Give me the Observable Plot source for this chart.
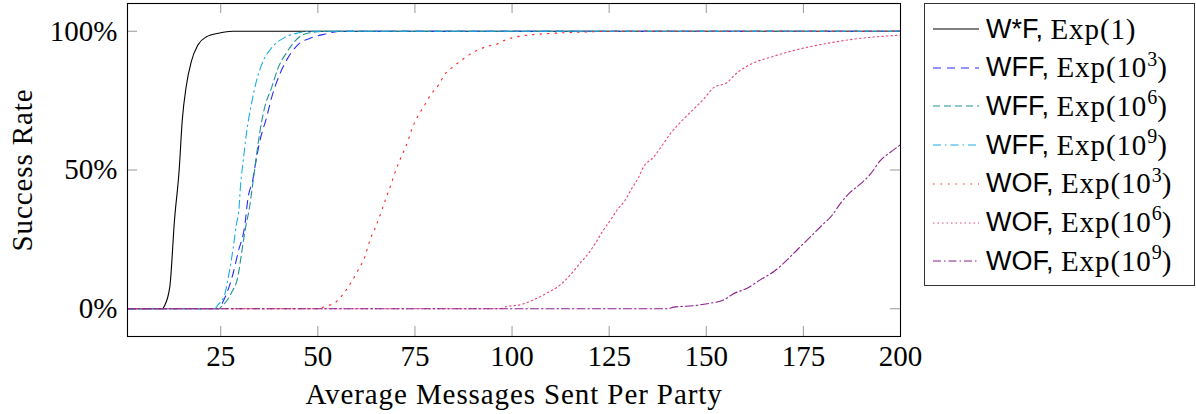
<!DOCTYPE html>
<html>
<head>
<meta charset="utf-8">
<script src="https://cdn.jsdelivr.net/npm/d3@7"></script>
<script src="https://cdn.jsdelivr.net/npm/@observablehq/plot@0.6"></script>
<style>
  body { margin: 0; background: #fff; }
  #wrap { position: relative; width: 1196px; height: 414px; overflow: hidden; }
  #chart { position: absolute; left: 0; top: 0; }
  #chart g[aria-label="x-axis label"] text,
  #chart g[aria-label="y-axis label"] text { letter-spacing: 0.9px; }
  #legend { position: absolute; left: 924px; top: 3px; width: 269px; height: 281px;
            border: 1px solid #333; background: #fff; box-sizing: content-box; }
  .row { position: absolute; left: 0; height: 38px; display: flex; align-items: center; white-space: nowrap; }
  .row svg { margin-left: 8px; margin-right: 7px; }
  .sans { font-family: "Liberation Sans", Arial, sans-serif; font-size: 27px; }
  .serif { font-family: "Liberation Serif", serif; font-size: 29px; letter-spacing: 0.9px; }
  .serif sup { font-size: 20px; position: relative; top: -1px; vertical-align: super; line-height: 0; letter-spacing: 0; }
</style>
</head>
<body>
<div id="wrap">
  <div id="chart"></div>
  <div id="legend"></div>
</div>
<script>
// ---- data (success rate in %, vs average messages sent per party) ----
const xTicks = [25, 50, 75, 100, 125, 150, 175, 200];
const yTicks = [0, 50, 100];

const wstarF_x = [1, 10, 10.5, 11.9, 13.1, 14.3, 15.1, 16.1, 17.4, 19.1, 21.3, 24.7, 28, 200];
const wstarF_y = [0, 0, 1, 8, 32, 50, 68, 80, 89, 95, 98, 99.4, 100, 100];

const wff3_x = [1, 24.5, 25.6, 28.2, 29.5, 31.2, 32, 33.3, 33.8, 35.1, 36.8, 38.1, 40.2, 42.3, 44.9, 48, 52, 56, 200];
const wff3_y = [0, 0, 2.6, 12.8, 20.5, 30.1, 39.7, 46.8, 51, 60.6, 68.9, 76.1, 84.5, 90.4, 95.2, 97.5, 99, 100, 100];

const wff6_x = [1, 24.5, 25.2, 27.7, 29.5, 30.3, 31.2, 32.5, 33.3, 33.8, 35.1, 36.3, 38.1, 39.8, 41.9, 44.1, 46.6, 52, 200];
const wff6_y = [0, 0, 0.8, 5.6, 12.2, 19.4, 27.7, 37.3, 45.6, 51, 64, 72.5, 79.7, 86.9, 92.2, 96.4, 99, 100, 100];

const wff9_x = [1, 23.5, 24.3, 26, 26.9, 28.2, 29, 29.7, 30.1, 30.5, 30.8, 31.6, 32.9, 34.2, 35.9, 38.1, 41.5, 44.9, 48, 200];
const wff9_y = [0, 0, 1.4, 5, 11, 21.8, 30.1, 36.1, 44.4, 49.8, 53.4, 63, 73.7, 82.1, 89.2, 94, 97.8, 99.4, 100, 100];

const wof3_x = [1, 50, 51.8, 54.8, 57, 58.7, 60.4, 62.1, 63.4, 64.7, 66.4, 67.5, 68.6, 69.6, 70.7, 72, 73.3, 74.3, 75.7, 77.4, 79, 81, 82.7, 85.1, 87.6, 90.5, 93.3, 96.5, 98, 102, 109.8, 118.3, 126, 200];
const wof3_y = [0, 0, 0.8, 2.6, 6.2, 9.8, 14, 18.7, 24.7, 28.9, 35.2, 39.7, 43.8, 48, 52.2, 56.4, 60.9, 65.1, 69.3, 73.1, 77, 80.5, 84.5, 87.5, 90.2, 92.8, 94.4, 95.6, 96.7, 98.2, 99.2, 99.7, 100, 100];

const wof6_x = [1, 97, 98.6, 102, 105.5, 108.9, 112.4, 115, 117.5, 119.7, 121.4, 123.5, 125.3, 127, 129.1, 130.8, 132.6, 133.8, 136.4, 138.6, 140.7, 143.7, 146.7, 149.3, 151.9, 155.3, 157.9, 161.3, 167.4, 173.4, 180.2, 188.8, 200];
const wof6_y = [0, 0, 0.8, 1.4, 3.2, 5.6, 8.6, 12.2, 16.4, 20, 23.5, 28.3, 31.9, 35.5, 39.1, 43.3, 47.4, 51, 54.6, 58.8, 63, 67.7, 71.9, 75.5, 79.7, 81.5, 85, 88, 91, 93.4, 95.4, 97.3, 98.6];

const wof9_x = [1, 140, 141.6, 146.7, 150.2, 154.5, 157, 160.5, 163.9, 167.4, 170.8, 173.8, 176.8, 179.8, 182.4, 184.5, 187.1, 189.7, 192.3, 194.8, 197.4, 200];
const wof9_y = [0, 0, 0.6, 1.1, 1.8, 3.2, 5.4, 7.4, 10.4, 13.4, 17.6, 21.8, 25.9, 30.1, 33.7, 37.9, 42, 45, 48.6, 53.4, 56.4, 59.1];

const seriesNames = ["W*F", "WFF", "WFF", "WFF", "WOF", "WOF", "WOF"];
const seriesExps = ["1", "3", "6", "9", "3", "6", "9"];
const seriesX = [wstarF_x, wff3_x, wff6_x, wff9_x, wof3_x, wof6_x, wof9_x];
const seriesY = [wstarF_y, wff3_y, wff6_y, wff9_y, wof3_y, wof6_y, wof9_y];

// ---- styles ----
const colors = ["#000000", "#2a2aff", "#1f9393", "#1aaee6", "#ff2020", "#e8457a", "#8e1e8e"];
const dashes = [null, "8,6", "7,4", "8,4,1.5,4", "1.5,6", "1.5,3", "8,3,1.5,3"];

const W = 1196, H = 414, mL = 127, mR = 296, mT = 3, mB = 78;
const frameW = W - mL - mR, frameH = H - mT - mB;

const marks = [];
// inward ticks (bottom/top/left/right)
marks.push(Plot.tickX(xTicks, {x: d => d, stroke: "#999", strokeWidth: 1, insetTop: frameH - 10}));
marks.push(Plot.tickX(xTicks, {x: d => d, stroke: "#999", strokeWidth: 1, insetBottom: frameH - 10}));
marks.push(Plot.tickY(yTicks, {y: d => d, stroke: "#999", strokeWidth: 1, insetRight: frameW - 10}));
marks.push(Plot.tickY(yTicks, {y: d => d, stroke: "#999", strokeWidth: 1, insetLeft: frameW - 10}));

seriesX.forEach((xs, i) => {
  const rows = xs.map((x, j) => ({x, y: seriesY[i][j]}));
  marks.push(Plot.line(rows, {
    x: "x", y: "y", stroke: colors[i], strokeWidth: 1.1,
    strokeDasharray: dashes[i], curve: "monotone-x"
  }));
});

marks.push(Plot.axisX(xTicks, {
  tickSize: 0, tickPadding: 9, label: "Average Messages Sent Per Party",
  labelAnchor: "center", labelArrow: "none", labelOffset: 67
}));
marks.push(Plot.axisY(yTicks, {
  tickSize: 0, tickPadding: 10, tickFormat: d => d + "%", label: "Success Rate",
  labelAnchor: "center", labelArrow: "none", labelOffset: 116
}));
marks.push(Plot.frame({stroke: "#000", strokeWidth: 1.1}));

const chart = Plot.plot({
  width: W, height: H,
  marginLeft: mL, marginRight: mR, marginTop: mT, marginBottom: mB,
  x: {domain: [1, 200]},
  y: {domain: [-10, 110]},
  style: {fontFamily: "'Liberation Serif', serif", fontSize: "29px", color: "#000", background: "#fff"},
  marks
});
document.getElementById("chart").appendChild(chart);

// ---- legend ----
const legend = document.getElementById("legend");
seriesNames.forEach((name, i) => {
  const row = document.createElement("div");
  row.className = "row";
  row.style.top = (6 + i * 38.7) + "px";
  const ns = "http://www.w3.org/2000/svg";
  const svg = document.createElementNS(ns, "svg");
  svg.setAttribute("width", 46); svg.setAttribute("height", 10);
  const ln = document.createElementNS(ns, "line");
  ln.setAttribute("x1", 0); ln.setAttribute("x2", 46);
  ln.setAttribute("y1", 5); ln.setAttribute("y2", 5);
  ln.setAttribute("stroke", colors[i]); ln.setAttribute("stroke-width", 1.1);
  if (dashes[i]) ln.setAttribute("stroke-dasharray", dashes[i]);
  svg.appendChild(ln);
  row.appendChild(svg);
  const s1 = document.createElement("span");
  s1.className = "sans"; s1.textContent = name + ",\u00a0";
  row.appendChild(s1);
  const s2 = document.createElement("span");
  s2.className = "serif";
  if (seriesExps[i] === "1") s2.textContent = "Exp(1)";
  else s2.innerHTML = "Exp(10<sup>" + seriesExps[i] + "</sup>)";
  row.appendChild(s2);
  legend.appendChild(row);
});
</script>
</body>
</html>
